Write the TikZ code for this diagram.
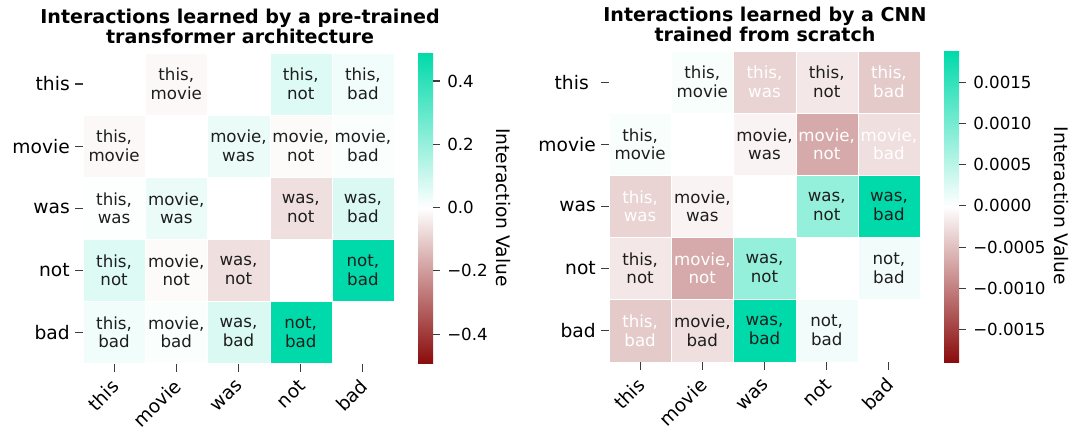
\documentclass[tikz,border=0pt]{standalone}
\usepackage{fontspec}
\setmainfont{DejaVu Sans}
\usepackage{tikz}
\usetikzlibrary{shapes}
\definecolor{posgreen}{RGB}{0,218,170}
\definecolor{negred}{RGB}{139,12,12}
\definecolor{annot}{RGB}{30,30,30}
\definecolor{tickgray}{RGB}{60,60,60}
\tikzstyle{cell}=[rectangle, minimum width=46.65pt, minimum height=46.58pt, inner sep=0, align=center, draw=white, line width=0.08pt, text=annot, font=\fontsize{12.5}{14}\selectfont]
\tikzstyle{darkcell}=[cell, text=white]
\tikzstyle{rowlabel}=[anchor=east, inner sep=0, font=\fontsize{14}{16}\selectfont]
\tikzstyle{collabel}=[anchor=east, rotate=45, inner sep=0, font=\fontsize{14}{16}\selectfont]
\tikzstyle{cbarlabel}=[anchor=west, inner sep=0, font=\fontsize{12.5}{14}\selectfont]
\tikzstyle{cbartitle}=[rotate=-90, inner sep=0, font=\fontsize{14}{16}\selectfont]
\tikzstyle{plottitle}=[anchor=north, inner sep=0, align=center, font=\bfseries\fontsize{14.3}{15}\selectfont]
\tikzstyle{tickmark}=[draw=tickgray, line width=0.8pt]

\begin{document}
\begin{tikzpicture}[x=0.75pt, y=-0.75pt]
    \useasboundingbox (0,0) rectangle (1073,430);

    % pre-trained transformer
    \node [style=plottitle] (Ttitle) at (240,8.5) {Interactions learned by a pre-trained\\transformer architecture};
    \node [style=cell, fill=negred!3] (T12) at (176.3,84) {this,\\movie};
    \node [style=cell, fill=posgreen!13] (T14) at (300.7,84) {this,\\not};
    \node [style=cell, fill=posgreen!6] (T15) at (362.9,84) {this,\\bad};
    \node [style=cell, fill=negred!3] (T21) at (114.1,146.1) {this,\\movie};
    \node [style=cell, fill=posgreen!8] (T23) at (238.5,146.1) {movie,\\was};
    \node [style=cell, fill=negred!2] (T24) at (300.7,146.1) {movie,\\not};
    \node [style=cell, fill=posgreen!2] (T25) at (362.9,146.1) {movie,\\bad};
    \node [style=cell, fill=posgreen!1] (T31) at (114.1,208.2) {this,\\was};
    \node [style=cell, fill=posgreen!8] (T32) at (176.3,208.2) {movie,\\was};
    \node [style=cell, fill=negred!13] (T34) at (300.7,208.2) {was,\\not};
    \node [style=cell, fill=posgreen!15] (T35) at (362.9,208.2) {was,\\bad};
    \node [style=cell, fill=posgreen!13] (T41) at (114.1,270.3) {this,\\not};
    \node [style=cell, fill=negred!2] (T42) at (176.3,270.3) {movie,\\not};
    \node [style=cell, fill=negred!13] (T43) at (238.5,270.3) {was,\\not};
    \node [style=cell, fill=posgreen] (T45) at (362.9,270.3) {not,\\bad};
    \node [style=cell, fill=posgreen!6] (T51) at (114.1,332.4) {this,\\bad};
    \node [style=cell, fill=posgreen!2] (T52) at (176.3,332.4) {movie,\\bad};
    \node [style=cell, fill=posgreen!15] (T53) at (238.5,332.4) {was,\\bad};
    \node [style=cell, fill=posgreen] (T54) at (300.7,332.4) {not,\\bad};

    \node [style=rowlabel] (Trow1) at (70,84) {this};
    \node [style=rowlabel] (Trow2) at (70,146.1) {movie};
    \node [style=rowlabel] (Trow3) at (70,208.2) {was};
    \node [style=rowlabel] (Trow4) at (70,270.3) {not};
    \node [style=rowlabel] (Trow5) at (70,332.4) {bad};
    \node [style=collabel] (Tcol1) at (115.5,383) {this};
    \node [style=collabel] (Tcol2) at (177.7,383) {movie};
    \node [style=collabel] (Tcol3) at (239.9,383) {was};
    \node [style=collabel] (Tcol4) at (302.1,383) {not};
    \node [style=collabel] (Tcol5) at (364.3,383) {bad};
    \draw [style=tickmark] (75,84) -- (83,84);
    \draw [style=tickmark] (75,146.1) -- (83,146.1);
    \draw [style=tickmark] (75,208.2) -- (83,208.2);
    \draw [style=tickmark] (75,270.3) -- (83,270.3);
    \draw [style=tickmark] (75,332.4) -- (83,332.4);
    \draw [style=tickmark] (114.1,363.5) -- (114.1,371.5);
    \draw [style=tickmark] (176.3,363.5) -- (176.3,371.5);
    \draw [style=tickmark] (238.5,363.5) -- (238.5,371.5);
    \draw [style=tickmark] (300.7,363.5) -- (300.7,371.5);
    \draw [style=tickmark] (362.9,363.5) -- (362.9,371.5);

    \shade [bottom color=negred, top color=posgreen, middle color=white] (418,363) rectangle (433,53);
    \draw [style=tickmark] (433,81) -- (440,81);
    \draw [style=tickmark] (433,144.3) -- (440,144.3);
    \draw [style=tickmark] (433,207.7) -- (440,207.7);
    \draw [style=tickmark] (433,270.7) -- (440,270.7);
    \draw [style=tickmark] (433,334.3) -- (440,334.3);
    \node [style=cbarlabel] (Tcb1) at (447,81) {0.4};
    \node [style=cbarlabel] (Tcb2) at (447,144.3) {0.2};
    \node [style=cbarlabel] (Tcb3) at (447,207.7) {0.0};
    \node [style=cbarlabel] (Tcb4) at (447,270.7) {−0.2};
    \node [style=cbarlabel] (Tcb5) at (447,334.3) {−0.4};
    \node [style=cbartitle] (Tcbar) at (503,207.5) {Interaction Value};

    % CNN from scratch
    \node [style=plottitle] (Ctitle) at (765,7) {Interactions learned by a CNN\\trained from scratch};
    \node [style=cell, fill=posgreen!3] (C12) at (702.3,82.1) {this,\\movie};
    \node [style=darkcell, fill=negred!18] (C13) at (764.5,82.1) {this,\\was};
    \node [style=cell, fill=negred!10] (C14) at (826.7,82.1) {this,\\not};
    \node [style=darkcell, fill=negred!22] (C15) at (888.9,82.1) {this,\\bad};
    \node [style=cell, fill=posgreen!3] (C21) at (640.1,144.2) {this,\\movie};
    \node [style=cell, fill=negred!5] (C23) at (764.5,144.2) {movie,\\was};
    \node [style=darkcell, fill=negred!35] (C24) at (826.7,144.2) {movie,\\not};
    \node [style=darkcell, fill=negred!13] (C25) at (888.9,144.2) {movie,\\bad};
    \node [style=darkcell, fill=negred!18] (C31) at (640.1,206.3) {this,\\was};
    \node [style=cell, fill=negred!5] (C32) at (702.3,206.3) {movie,\\was};
    \node [style=cell, fill=posgreen!42] (C34) at (826.7,206.3) {was,\\not};
    \node [style=cell, fill=posgreen] (C35) at (888.9,206.3) {was,\\bad};
    \node [style=cell, fill=negred!10] (C41) at (640.1,268.4) {this,\\not};
    \node [style=darkcell, fill=negred!35] (C42) at (702.3,268.4) {movie,\\not};
    \node [style=cell, fill=posgreen!42] (C43) at (764.5,268.4) {was,\\not};
    \node [style=cell, fill=posgreen!5] (C45) at (888.9,268.4) {not,\\bad};
    \node [style=darkcell, fill=negred!22] (C51) at (640.1,330.5) {this,\\bad};
    \node [style=cell, fill=negred!13] (C52) at (702.3,330.5) {movie,\\bad};
    \node [style=cell, fill=posgreen] (C53) at (764.5,330.5) {was,\\bad};
    \node [style=cell, fill=posgreen!5] (C54) at (826.7,330.5) {not,\\bad};

    \node [style=rowlabel] (Crow1) at (589,82.1) {this};
    \node [style=rowlabel] (Crow2) at (596,144.2) {movie};
    \node [style=rowlabel] (Crow3) at (596,206.3) {was};
    \node [style=rowlabel] (Crow4) at (596,268.4) {not};
    \node [style=rowlabel] (Crow5) at (596,330.5) {bad};
    \node [style=collabel] (Ccol1) at (641.5,381.5) {this};
    \node [style=collabel] (Ccol2) at (703.7,381.5) {movie};
    \node [style=collabel] (Ccol3) at (765.9,381.5) {was};
    \node [style=collabel] (Ccol4) at (828.1,381.5) {not};
    \node [style=collabel] (Ccol5) at (890.3,381.5) {bad};
    \draw [style=tickmark] (601,82.1) -- (609,82.1);
    \draw [style=tickmark] (601,144.2) -- (609,144.2);
    \draw [style=tickmark] (601,206.3) -- (609,206.3);
    \draw [style=tickmark] (601,268.4) -- (609,268.4);
    \draw [style=tickmark] (601,330.5) -- (609,330.5);
    \draw [style=tickmark] (640.1,362) -- (640.1,370);
    \draw [style=tickmark] (702.3,362) -- (702.3,370);
    \draw [style=tickmark] (764.5,362) -- (764.5,370);
    \draw [style=tickmark] (826.7,362) -- (826.7,370);
    \draw [style=tickmark] (888.9,362) -- (888.9,370);

    \shade [bottom color=negred, top color=posgreen, middle color=white] (944,362) rectangle (959,51);
    \draw [style=tickmark] (959,82.7) -- (966,82.7);
    \draw [style=tickmark] (959,123.3) -- (966,123.3);
    \draw [style=tickmark] (959,164.3) -- (966,164.3);
    \draw [style=tickmark] (959,205.7) -- (966,205.7);
    \draw [style=tickmark] (959,247.3) -- (966,247.3);
    \draw [style=tickmark] (959,288.3) -- (966,288.3);
    \draw [style=tickmark] (959,329.3) -- (966,329.3);
    \node [style=cbarlabel] (Ccb1) at (973,82.7) {0.0015};
    \node [style=cbarlabel] (Ccb2) at (973,123.3) {0.0010};
    \node [style=cbarlabel] (Ccb3) at (973,164.3) {0.0005};
    \node [style=cbarlabel] (Ccb4) at (973,205.7) {0.0000};
    \node [style=cbarlabel] (Ccb5) at (973,247.3) {−0.0005};
    \node [style=cbarlabel] (Ccb6) at (973,288.3) {−0.0010};
    \node [style=cbarlabel] (Ccb7) at (973,329.3) {−0.0015};
    \node [style=cbartitle] (Ccbar) at (1061.5,206) {Interaction Value};
\end{tikzpicture}
\end{document}
